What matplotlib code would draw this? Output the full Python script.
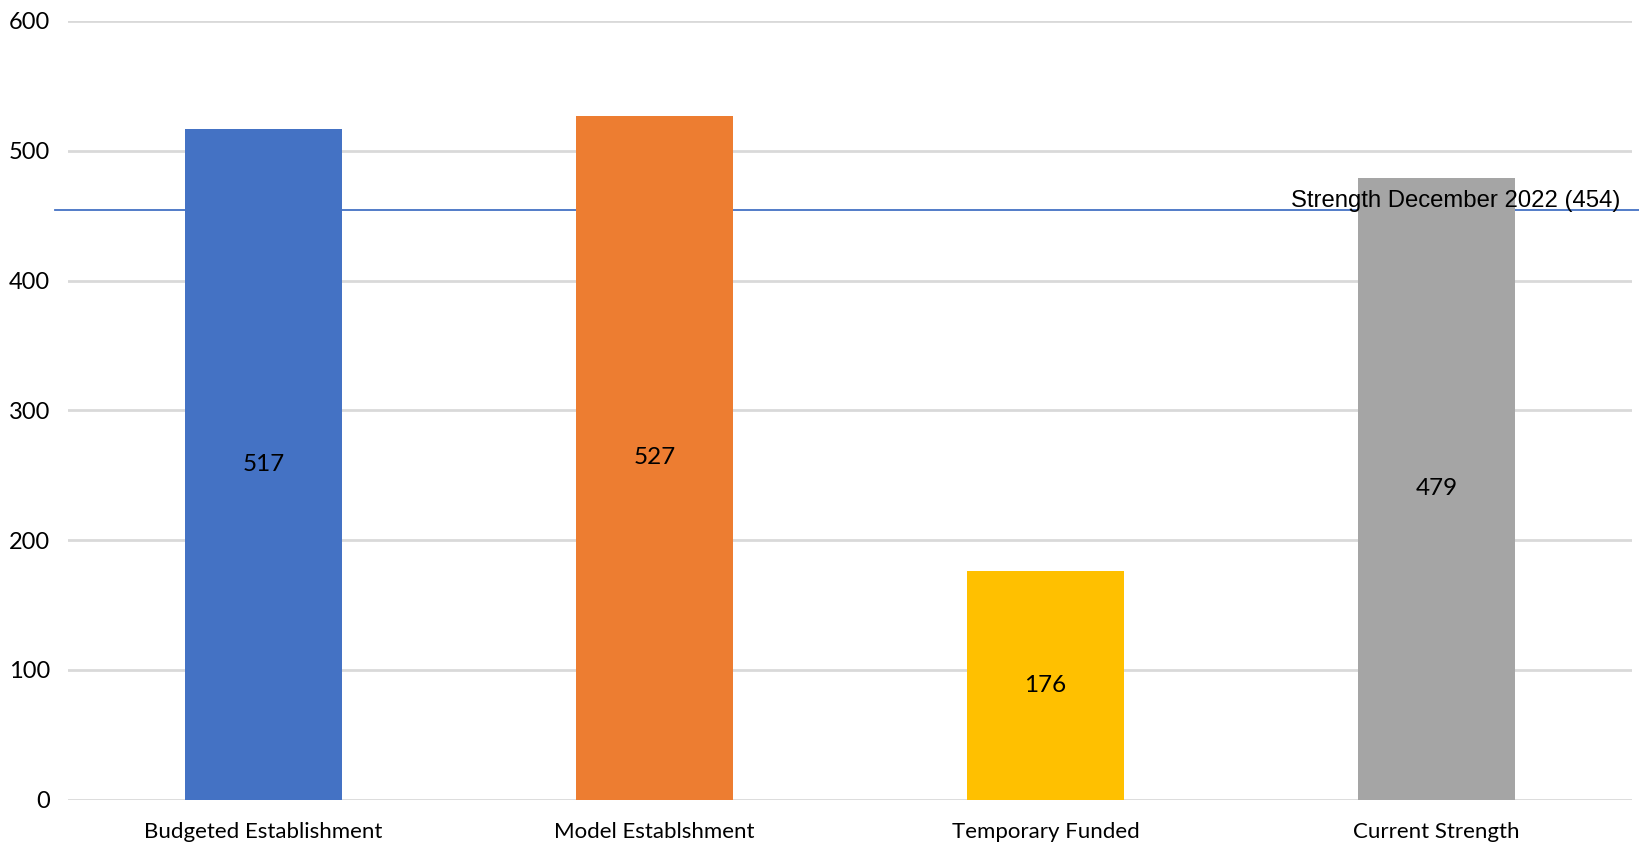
import matplotlib
matplotlib.use("Agg")
import matplotlib.pyplot as plt
from matplotlib.transforms import blended_transform_factory

categories = ["Budgeted Establishment", "Model Establshment", "Temporary Funded", "Current Strength"]
values = [517, 527, 176, 479]
bar_colors = ["#4472C4", "#ED7D31", "#FFC000", "#A5A5A5"]
reference_value = 454
reference_label = "Strength December 2022 (454)"
y_ticks = [0, 100, 200, 300, 400, 500, 600]

label_font = "Lato"
note_font = "Liberation Sans"

fig = plt.figure(figsize=(16.39, 8.5), dpi=100)
ax = fig.add_axes([0.0415, 0.0594, 0.9542, 0.9159])

x = range(len(categories))
bars = ax.bar(x, values, width=0.4, color=bar_colors, zorder=3)

for xi, v in zip(x, values):
    ax.text(xi, v / 2, str(v), ha="center", va="center", fontsize=17.5,
            family=label_font, color="black", zorder=5)

# Reference line spans slightly past the left edge of the plot area
trans = blended_transform_factory(fig.transFigure, ax.transData)
ax.plot([55 / 1639, 1.0], [reference_value, reference_value], transform=trans,
        color="#4472C4", linewidth=1.3, clip_on=False, zorder=2)
ax.text(1620 / 1639, reference_value + 3, reference_label, transform=trans,
        ha="right", va="baseline", fontsize=17.2, family=note_font, color="black", zorder=5)

ax.set_xlim(-0.5, 3.5)
ax.set_ylim(0, 600)
ax.set_yticks(y_ticks)
ax.set_xticks(list(x))
ax.set_xticklabels(categories, family=label_font, fontsize=16)
for lbl in ax.get_yticklabels():
    lbl.set_family(label_font)
    lbl.set_fontsize(17)

ax.grid(axis="y", color="#D9D9D9", linewidth=2, zorder=0)
ax.set_axisbelow(True)
for s in ax.spines.values():
    s.set_visible(False)
ax.tick_params(axis="both", length=0)
ax.tick_params(axis="y", pad=13)
ax.tick_params(axis="x", pad=16)

fig.savefig("out.png", dpi=100)
